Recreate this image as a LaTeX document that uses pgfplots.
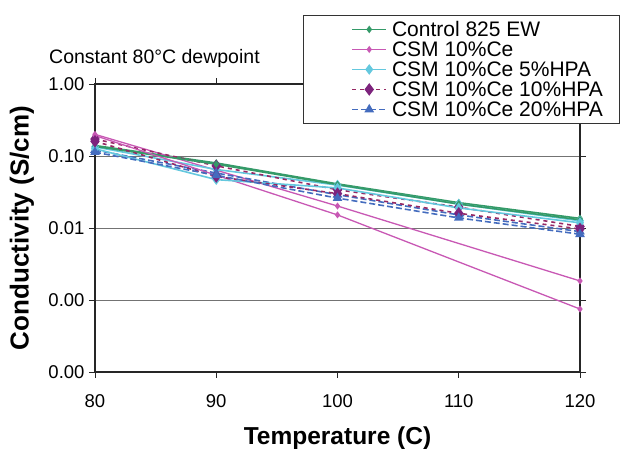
\documentclass[border=0pt]{standalone}
\usepackage{pgfplots}
\pgfplotsset{compat=1.18}
\usepackage{fontspec}
\setmainfont{Liberation Sans}
\definecolor{cgreen}{RGB}{52,154,104}
\definecolor{cmag}{RGB}{200,88,180}
\definecolor{ccyan}{RGB}{100,200,222}
\definecolor{cpurm}{RGB}{125,35,125}
\definecolor{cpurl}{RGB}{150,40,100}
\definecolor{cblue}{RGB}{68,108,190}
\begin{document}
\begin{tikzpicture}
\useasboundingbox (-95bp,-77bp) rectangle (526bp,372bp);
\begin{axis}[at={(0,0)}, anchor=south west, scale only axis,
  width=485bp, height=288bp,
  ymode=log, xmin=80, xmax=120, ymin=1e-4, ymax=1,
  xtick={80,90,100,110,120},
  ytick={1e-4,1e-3,1e-2,1e-1,1},
  yticklabels={0.00,0.00,0.01,0.10,1.00},
  yminorticks=false,
  ymajorgrids, grid style={black!55, line width=0.9bp},
  tick align=outside, major tick length=6bp,
  tick style={black!85, line width=0.9bp},
  axis line style={black!85, line width=1.3bp},
  ticklabel style={font=\fontsize{18.5bp}{20bp}\selectfont},
  /pgf/number format/assume math mode=true,
  xticklabel style={yshift=-13bp},
  yticklabel style={xshift=-1bp},
  xlabel={Temperature (C)}, ylabel={Conductivity (S/cm)},
  xlabel style={at={(axis description cs:0.5,-0.229)}, anchor=center, font=\fontsize{24.5bp}{26bp}\selectfont\bfseries},
  ylabel style={at={(axis description cs:-0.1505,0.5)}, anchor=center, font=\fontsize{26bp}{28bp}\selectfont\bfseries},
  title={Constant 80°C dewpoint},
  title style={at={(axis description cs:-0.0948,1.052)}, anchor=base west, inner sep=0pt, font=\fontsize{19.5bp}{21bp}\selectfont},
  clip=false,
  legend cell align=left,
  legend style={at={(axis description cs:0.4289,1.2396)}, anchor=north west,
    draw=black!80, line width=0.9bp, fill=white, inner xsep=6bp, inner ysep=4bp,
    font=\fontsize{21bp}{21bp}\selectfont, row sep=0pt,
    nodes={inner xsep=0bp, inner ysep=0bp, text height=17bp, text depth=3bp}},
  legend image code/.code={
    \path (0bp,0bp);
    \path (81bp,0bp);
    \draw[#1, mark repeat=2, mark phase=2] plot coordinates {(42bp,0bp) (59bp,0bp) (76bp,0bp)};
  },
]
% Control 825 EW
\addplot[cgreen, line width=1.6bp, mark=diamond*, mark size=2.5bp] coordinates {(80,0.140)(90,0.080)(100,0.041)(110,0.0225)(120,0.0136)};
\addlegendentry{Control 825 EW}
% CSM 10%Ce
\addplot[cmag, line width=1.3bp, mark=diamond*, mark size=2.5bp] coordinates {(80,0.200)(100,0.0202)(120,0.00184)};
\addlegendentry{CSM 10\%Ce}
% CSM 10%Ce 5%HPA
\addplot[ccyan, line width=1.6bp, mark=diamond*, mark size=4bp] coordinates {(80,0.134)(90,0.065)(100,0.0395)(110,0.0215)(120,0.0126)};
\addlegendentry{CSM 10\%Ce 5\%HPA}
% CSM 10%Ce 10%HPA
\addplot[cpurl, line width=1.6bp, dash pattern=on 4bp off 4bp, mark=diamond*, mark size=5bp, mark options={solid, fill=cpurm, draw=cpurm}] coordinates {(80,0.172)(90,0.073)(100,0.034)(110,0.0195)(120,0.0105)};
\addlegendentry{CSM 10\%Ce 10\%HPA}
% CSM 10%Ce 20%HPA
\addplot[cblue, line width=1.6bp, dash pattern=on 6bp off 3bp, mark=triangle*, mark size=4bp, mark options={solid}] coordinates {(80,0.121)(90,0.058)(100,0.029)(110,0.0152)(120,0.0089)};
\addlegendentry{CSM 10\%Ce 20\%HPA\hspace*{11bp}}
% second runs
\addplot[forget plot, cgreen, line width=1.6bp, mark=diamond*, mark size=2.5bp] coordinates {(80,0.136)(90,0.077)(100,0.040)(110,0.0215)(120,0.0130)};
\addplot[forget plot, cmag, line width=1.3bp, mark=diamond*, mark size=2.5bp] coordinates {(80,0.192)(100,0.0152)(120,0.00075)};
\addplot[forget plot, ccyan, line width=1.6bp, mark=diamond*, mark size=4bp] coordinates {(80,0.126)(90,0.047)(100,0.036)(110,0.019)(120,0.0118)};
\addplot[forget plot, cpurl, line width=1.6bp, dash pattern=on 4bp off 4bp, mark=diamond*, mark size=5bp, mark options={solid, fill=cpurm, draw=cpurm}] coordinates {(80,0.160)(90,0.052)(100,0.030)(110,0.0160)(120,0.0097)};
\addplot[forget plot, cblue, line width=1.6bp, dash pattern=on 6bp off 3bp, mark=triangle*, mark size=4bp, mark options={solid}] coordinates {(80,0.113)(90,0.054)(100,0.026)(110,0.0138)(120,0.0082)};
\end{axis}
\end{tikzpicture}
\end{document}
